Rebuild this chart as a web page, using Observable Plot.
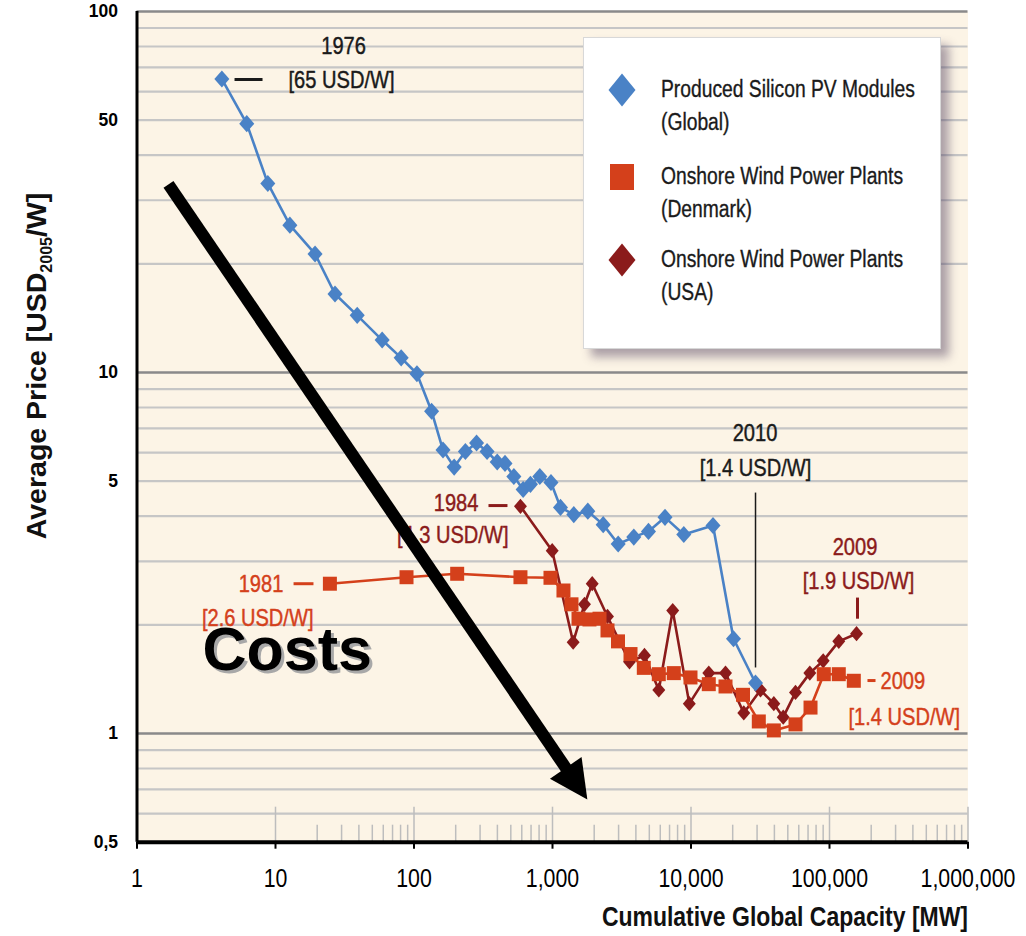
<!DOCTYPE html>
<html>
<head>
<meta charset="utf-8">
<script src="https://cdn.jsdelivr.net/npm/d3@7"></script>
<script src="https://cdn.jsdelivr.net/npm/@observablehq/plot@0.6"></script>
<style>
  html, body { margin: 0; padding: 0; background: #ffffff; }
  #wrap { position: relative; width: 1026px; height: 936px; overflow: hidden; }
  #legend {
    position: absolute; left: 583px; top: 37px; width: 356px; height: 310px;
    background: #ffffff; border: 1px solid #d8d8d8;
    box-shadow: 8px 8px 9px rgba(75, 60, 90, 0.45);
    font-family: 'Liberation Sans', Arial, sans-serif;
    font-size: 23.5px; line-height: 33px; color: #1a1a1a;
    -webkit-text-stroke: 0.35px #1a1a1a;
  }
  #legend .item { position: absolute; left: 77px; white-space: nowrap; transform: scaleX(0.82); transform-origin: 0 0; }
  #legend svg { position: absolute; }
</style>
</head>
<body>
<div id="wrap"></div>
<script>
// ---------- data ----------
const pvCapacity = [4.1, 6.2, 8.8, 12.7, 19.3, 26.9, 38.9, 58.9, 80.8, 105, 134, 162, 195, 235, 283, 337, 399, 454, 526, 614, 693, 810, 975, 1142, 1425, 1799, 2323, 2980, 3864, 4932, 6491, 8872, 14420, 20270, 29230];
const pvPrice    = [65, 48.9, 33.4, 25.6, 21.3, 16.5, 14.4, 12.3, 10.98, 9.92, 7.81, 6.10, 5.47, 6.04, 6.38, 6.04, 5.65, 5.60, 5.15, 4.74, 4.90, 5.15, 4.96, 4.23, 4.04, 4.13, 3.79, 3.35, 3.50, 3.63, 3.97, 3.56, 3.77, 1.83, 1.38];

const dkCapacity = [24.7, 88.3, 205, 587, 967, 1200, 1371, 1541, 1849, 2185, 2495, 2971, 3658, 4563, 5855, 7514, 9916, 13440, 17750, 23740, 30870, 39630, 56820, 72940, 90960, 116700, 149800];
const dkPrice    = [2.60, 2.71, 2.77, 2.71, 2.70, 2.49, 2.28, 2.08, 2.07, 2.08, 1.93, 1.80, 1.66, 1.52, 1.46, 1.47, 1.43, 1.37, 1.35, 1.28, 1.08, 1.02, 1.06, 1.18, 1.46, 1.46, 1.40];

const usCapacity = [587, 995, 1410, 1702, 1935, 2495, 3597, 4615, 5855, 7380, 9722, 13440, 17750, 24050, 31760, 39630, 46330, 56820, 72100, 90060, 116700, 156700];
const usPrice    = [4.26, 3.21, 1.79, 2.28, 2.60, 2.11, 1.58, 1.645, 1.32, 2.19, 1.21, 1.47, 1.47, 1.14, 1.32, 1.21, 1.11, 1.30, 1.47, 1.59, 1.80, 1.89];

const seriesNames = ["Produced Silicon PV Modules", "(Global)", "Onshore Wind Power Plants", "(Denmark)", "Onshore Wind Power Plants", "(USA)"];

const xTicks = [1, 10, 100, 1000, 10000, 100000, 1000000];
const xTickLabels = ["1", "10", "100", "1,000", "10,000", "100,000", "1,000,000"];
const yTicks = [0.5, 1, 5, 10, 50, 100];
const yTickLabels = ["0,5", "1", "5", "10", "50", "100"];
const yGridMinor = [0.6, 0.7, 0.8, 0.9, 2, 3, 4, 5, 6, 7, 8, 9, 20, 30, 40, 50, 60, 70, 80, 90];
const yGridMajor = [1, 10, 100];
const xTickMajor = [10, 100, 1000, 10000, 100000, 1000000];
const xTickMinor = [20,30,40,50,60,70,80,90, 200,300,400,500,600,700,800,900, 2000,3000,4000,5000,6000,7000,8000,9000, 20000,30000,40000,50000,60000,70000,80000,90000, 200000,300000,400000,500000,600000,700000,800000,900000];

const xTitle = "Cumulative Global Capacity [MW]";
const yTitleMain = "Average Price [USD";
const yTitleSub = "2005";
const yTitleEnd = "/W]";

const annotationLabels = ["1976", "[65 USD/W]", "1984", "[4.3 USD/W]", "1981", "[2.6 USD/W]", "2010", "[1.4 USD/W]", "2009", "[1.9 USD/W]", "2009", "[1.4 USD/W]"];
const annotationX      = [31, 30, 292, 481, 11.4, 18.8, 28970, 29200, 152800, 161900, 233500, 137100];
const annotationY      = [80, 64.4, 4.34, 3.54, 2.59, 2.09, 6.78, 5.42, 3.275, 2.65, 1.40, 1.107];
const annotationSeries = ["note", "note", "us", "us", "dk", "dk", "note", "note", "us", "us", "dk", "dk"];
const annotationAlign  = ["middle", "middle", "end", "end", "end", "end", "middle", "middle", "middle", "middle", "start", "start"];

const leaderX1 = [5.06, 345, 13.5, 29230, 159300, 188000];
const leaderX2 = [8.06, 473, 18.8, 29230, 159300, 214900];
const leaderY1 = [64.8, 4.28, 2.60, 4.65, 2.38, 1.402];
const leaderY2 = [64.8, 4.28, 2.60, 1.524, 2.08, 1.402];
const leaderSeries = ["note", "us", "dk", "rule", "us", "dk"];

const costsLabel = "Costs";
const costsPos = {x: 2.97, y: 1.70};
const arrowStart = {x: 1.688, y: 33.2};
const arrowHeadAt = {x: 1405, y: 0.751};

// ---------- styles ----------
// "NarrowMark" is a marker name (not a real font) used to find the texts to condense
const NARROW = "'Liberation Sans', NarrowMark, Arial, sans-serif";
const SANS = "'Liberation Sans', Arial, sans-serif";
const colors = {pv: "#4a82c6", dk: "#d4401b", us: "#8b1b1b", note: "#1a1a1a", rule: "#1a1a1a"};

function diamond(ratio) {
  return {draw(ctx, size) {
    const h = Math.sqrt(size / (2 * ratio)), w = h * ratio;
    ctx.moveTo(0, -h); ctx.lineTo(w, 0); ctx.lineTo(0, h); ctx.lineTo(-w, 0); ctx.closePath();
  }};
}
const arrowHeadSymbol = {draw(ctx, size) {
  const s = Math.sqrt(size), H = 1.2 * s, B = 1.2 * s;
  ctx.moveTo(0, -2 * H / 3); ctx.lineTo(B / 2, H / 3); ctx.lineTo(-B / 2, H / 3); ctx.closePath();
}};

// ---------- tables ----------
const pv = pvCapacity.map((c, i) => ({capacity: c, price: pvPrice[i]}));
const dk = dkCapacity.map((c, i) => ({capacity: c, price: dkPrice[i]}));
const us = usCapacity.map((c, i) => ({capacity: c, price: usPrice[i]}));
const notes = annotationLabels.map((t, i) => ({text: t, x: annotationX[i], y: annotationY[i], s: annotationSeries[i], a: annotationAlign[i]}));
const leaders = leaderX1.map((x1, i) => ({x1, x2: leaderX2[i], y1: leaderY1[i], y2: leaderY2[i], s: leaderSeries[i]}));
const xLabelMap = new Map(xTicks.map((t, i) => [t, xTickLabels[i]]));
const yLabelMap = new Map(yTicks.map((t, i) => [t, yTickLabels[i]]));

const textMarks = ["start", "middle", "end"].map(a => Plot.text(notes.filter(d => d.a === a), {
  x: "x", y: "y", text: "text", fill: d => colors[d.s], stroke: d => colors[d.s], strokeWidth: 0.45,
  textAnchor: a, fontSize: 24.5, fontFamily: NARROW
}));

const plotH = 936 - 11 - 94.3;

const chart = Plot.plot({
  width: 1026, height: 936,
  marginLeft: 136.5, marginRight: 58.5, marginTop: 11, marginBottom: 94.3,
  style: {background: "transparent", overflow: "visible"},
  x: {type: "log", domain: [1, 1e6]},
  y: {type: "log", domain: [0.5, 100]},
  marks: [
    Plot.frame({fill: "#fcf4e6", stroke: "none"}),
    Plot.ruleY(yGridMinor, {stroke: "#c6c6c6", strokeWidth: 2.2}),
    Plot.ruleY(yGridMajor, {stroke: "#8a8a8a", strokeWidth: 2.4}),
    Plot.ruleX(xTickMajor, {stroke: "#bdbdbd", strokeWidth: 1.5, insetTop: plotH - 35}),
    Plot.ruleX(xTickMinor, {stroke: "#bdbdbd", strokeWidth: 1.5, insetTop: plotH - 17}),
    Plot.ruleY([0.5], {stroke: "#000", strokeWidth: 4}),
    Plot.ruleX([1], {stroke: "#000", strokeWidth: 3}),
    Plot.axisX(xTicks, {anchor: "bottom", tickSize: 7, tickPadding: 19, strokeWidth: 2, tickFormat: d => xLabelMap.get(d), fontSize: 26, fontFamily: NARROW, label: null}),
    Plot.axisY(yTicks, {anchor: "left", tickSize: 0, tickPadding: 19, tickFormat: d => yLabelMap.get(d), fontSize: 17.5, fontWeight: 600, fontFamily: SANS, label: null}),
    // series
    Plot.line(us, {x: "capacity", y: "price", stroke: colors.us, strokeWidth: 2.6}),
    Plot.dot(us, {x: "capacity", y: "price", symbol: diamond(0.85), r: 5.6, fill: colors.us}),
    Plot.line(dk, {x: "capacity", y: "price", stroke: colors.dk, strokeWidth: 2.6}),
    Plot.dot(dk, {x: "capacity", y: "price", symbol: "square", r: 7.9, fill: colors.dk}),
    Plot.line(pv, {x: "capacity", y: "price", stroke: colors.pv, strokeWidth: 2.6}),
    Plot.dot(pv, {x: "capacity", y: "price", symbol: diamond(0.88), r: 6.4, fill: colors.pv}),
    // annotations
    Plot.link(leaders.filter(d => d.s !== "rule"), {x1: "x1", x2: "x2", y1: "y1", y2: "y2", stroke: d => colors[d.s], strokeWidth: 3}),
    Plot.link(leaders.filter(d => d.s === "rule"), {x1: "x1", x2: "x2", y1: "y1", y2: "y2", stroke: colors.rule, strokeWidth: 1.5}),
    ...textMarks,
    // Costs arrow
    Plot.link([{a: arrowStart, b: arrowHeadAt}], {x1: d => d.a.x, y1: d => d.a.y, x2: d => d.b.x, y2: d => d.b.y, stroke: "#000", strokeWidth: 12}),
    Plot.dot([arrowHeadAt], {x: "x", y: "y", symbol: arrowHeadSymbol, r: 18, rotate: 145.7, fill: "#000"}),
    Plot.text([costsPos], {x: "x", y: "y", text: () => costsLabel, dx: 3, dy: 3, fill: "#a8a8a8", fontSize: 61, fontWeight: "bold", fontFamily: SANS, textAnchor: "start"}),
    Plot.text([costsPos], {x: "x", y: "y", text: () => costsLabel, fill: "#000", fontSize: 61, fontWeight: "bold", fontFamily: SANS, textAnchor: "start"})
  ]
});

const wrap = document.getElementById("wrap");
wrap.appendChild(chart);

// axis titles
const svgSel = d3.select(chart);
svgSel.append("text")
  .attr("x", 968).attr("y", 926)
  .attr("text-anchor", "end")
  .attr("font-family", NARROW).attr("font-weight", "bold").attr("font-size", 28)
  .attr("fill", "#111")
  .text(xTitle);

const yt = svgSel.append("text")
  .attr("transform", "translate(46,366) rotate(-90)")
  .attr("text-anchor", "middle")
  .attr("font-family", SANS).attr("font-weight", "bold").attr("font-size", 28.5)
  .attr("fill", "#111");
yt.append("tspan").text(yTitleMain);
yt.append("tspan").attr("font-size", 16).attr("dy", 6).text(yTitleSub);
yt.append("tspan").attr("dy", -6).text(yTitleEnd);

// condense the narrow-style texts (no condensed face installed)
svgSel.selectAll("text").each(function() {
  const ff = getComputedStyle(this).fontFamily || "";
  if (ff.indexOf("NarrowMark") >= 0) {
    const L = this.getComputedTextLength();
    if (L > 0) {
      this.setAttribute("textLength", (L * 0.82).toFixed(1));
      this.setAttribute("lengthAdjust", "spacingAndGlyphs");
    }
  }
});

// legend (HTML overlay)
const legend = document.createElement("div");
legend.id = "legend";
const items = [
  {top: 35, color: colors.pv, shape: "diamond", lines: [seriesNames[0], seriesNames[1]], cy: 51.5},
  {top: 122, color: colors.dk, shape: "square", lines: [seriesNames[2], seriesNames[3]], cy: 139},
  {top: 205, color: colors.us, shape: "diamond", lines: [seriesNames[4], seriesNames[5]], cy: 221.5}
];
for (const it of items) {
  const s = document.createElementNS("http://www.w3.org/2000/svg", "svg");
  s.setAttribute("width", 34); s.setAttribute("height", 36);
  s.style.left = (38 - 17) + "px"; s.style.top = (it.cy - 18) + "px";
  const p = document.createElementNS("http://www.w3.org/2000/svg", "path");
  p.setAttribute("d", it.shape === "diamond" ? "M17,1.5L30.5,18L17,34.5L3.5,18Z" : "M5,5H29V31H5Z");
  p.setAttribute("fill", it.color);
  s.appendChild(p);
  legend.appendChild(s);
  const t = document.createElement("div");
  t.className = "item"; t.style.top = it.top + "px";
  t.innerHTML = it.lines.join("<br>");
  legend.appendChild(t);
}
wrap.appendChild(legend);
</script>
</body>
</html>
